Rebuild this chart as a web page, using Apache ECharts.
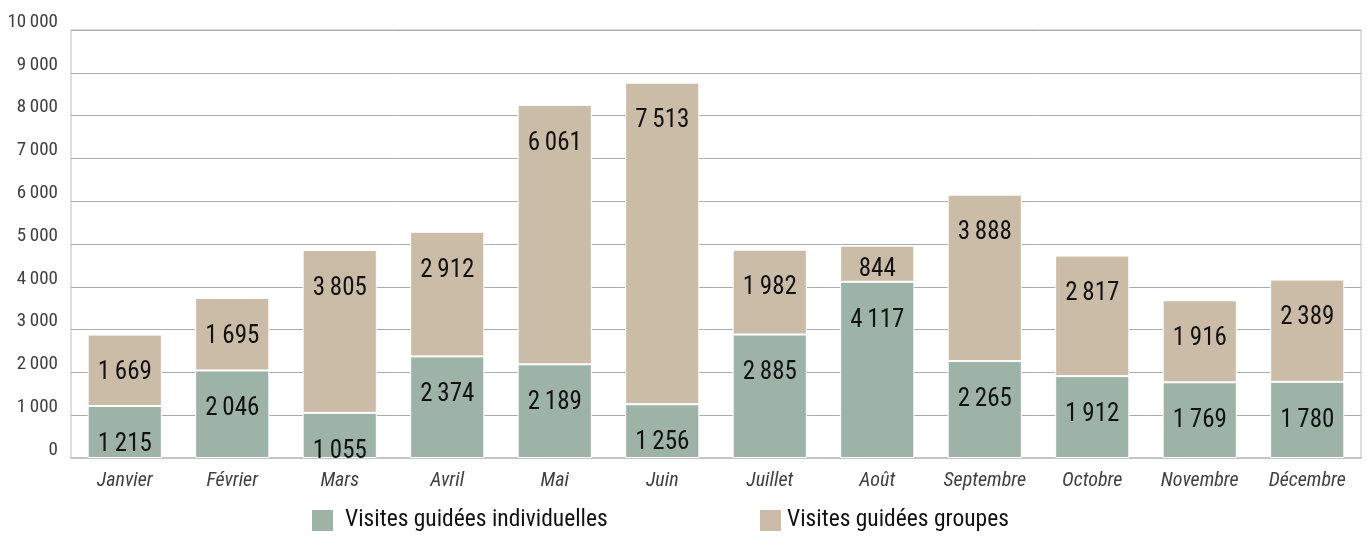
<!DOCTYPE html>
<html>
<head>
<meta charset="utf-8">
<title>Visites guidées par mois</title>
<script src="https://cdn.jsdelivr.net/npm/echarts@6/dist/echarts.min.js"></script>
<style>
  html, body { margin: 0; padding: 0; background: #fff; }
  #chart { width: 1367px; height: 536px; }
</style>
</head>
<body>
<div id="chart"></div>
<script>
// Mois
var months = ['Janvier', 'Février', 'Mars', 'Avril', 'Mai', 'Juin', 'Juillet', 'Août', 'Septembre', 'Octobre', 'Novembre', 'Décembre'];
// Nombre de visiteurs par mois
var individuelles = [1215, 2046, 1055, 2374, 2189, 1256, 2885, 4117, 2265, 1912, 1769, 1780];
var groupes = [1669, 1695, 3805, 2912, 6061, 7513, 1982, 844, 3888, 2817, 1916, 2389];
// Noms des séries
var seriesNames = ['Visites guidées individuelles', 'Visites guidées groupes'];

var FONT = '"Roboto Condensed", "Roboto", sans-serif';
var GREEN = '#9db3a7';
var BEIGE = '#cbbca7';

// 1215 -> "1 215" (espace fine comme séparateur de milliers)
function fmt(v) {
  return String(v).replace(/\B(?=(\d{3})+(?!\d))/g, '\u2009');
}

// Étiquette placée près du haut du segment, rapprochée quand le segment est petit
function items(values) {
  return values.map(function (v) {
    var item = { value: v };
    if (v < 1000) {
      item.label = { distance: 12 };
    }
    return item;
  });
}

var labelStyle = {
  show: true,
  position: 'insideTop',
  distance: 26,
  fontFamily: FONT,
  fontSize: 25,
  color: '#111',
  formatter: function (p) { return fmt(p.value); }
};

var chart = echarts.init(document.getElementById('chart'), null, { renderer: 'canvas' });

chart.setOption({
  animation: false,
  textStyle: { fontFamily: FONT },
  grid: {
    left: 71, right: 6, top: 30, bottom: 78,
    show: true,
    borderColor: '#bdbdbd',
    borderWidth: 1
  },
  legend: [
    {
      data: [seriesNames[0]],
      left: 310, top: 508,
      padding: 0,
      itemWidth: 23, itemHeight: 23,
      icon: 'rect',
      textStyle: { fontFamily: FONT, fontSize: 23.5, color: '#111', padding: [4, 0, 0, 6] }
    },
    {
      data: [seriesNames[1]],
      left: 758, top: 508,
      padding: 0,
      itemWidth: 23, itemHeight: 23,
      icon: 'rect',
      textStyle: { fontFamily: FONT, fontSize: 23.5, color: '#111', padding: [4, 0, 0, 0] }
    }
  ],
  xAxis: {
    type: 'category',
    data: months,
    axisLine: { lineStyle: { color: '#c4c4c4', width: 2 } },
    axisTick: { show: false },
    axisLabel: {
      margin: 13,
      fontFamily: FONT,
      fontSize: 20,
      fontStyle: 'italic',
      color: '#404040'
    }
  },
  yAxis: {
    type: 'value',
    min: 0, max: 10000, interval: 1000,
    axisLine: { show: false },
    axisTick: { show: false },
    splitLine: { lineStyle: { color: '#ababab', width: 1 } },
    axisLabel: {
      margin: 13,
      fontFamily: FONT,
      fontSize: 19,
      color: '#404040',
      verticalAlign: 'bottom',
      lineHeight: 16,
      formatter: function (v) { return fmt(v); }
    }
  },
  series: [
    {
      name: seriesNames[0],
      type: 'bar',
      stack: 'visites',
      barWidth: '69%',
      itemStyle: { color: GREEN, borderColor: '#fff', borderWidth: 1 },
      label: labelStyle,
      data: items(individuelles)
    },
    {
      name: seriesNames[1],
      type: 'bar',
      stack: 'visites',
      barWidth: '69%',
      itemStyle: { color: BEIGE, borderColor: '#fff', borderWidth: 1 },
      label: labelStyle,
      data: items(groupes)
    }
  ]
});
</script>
</body>
</html>
